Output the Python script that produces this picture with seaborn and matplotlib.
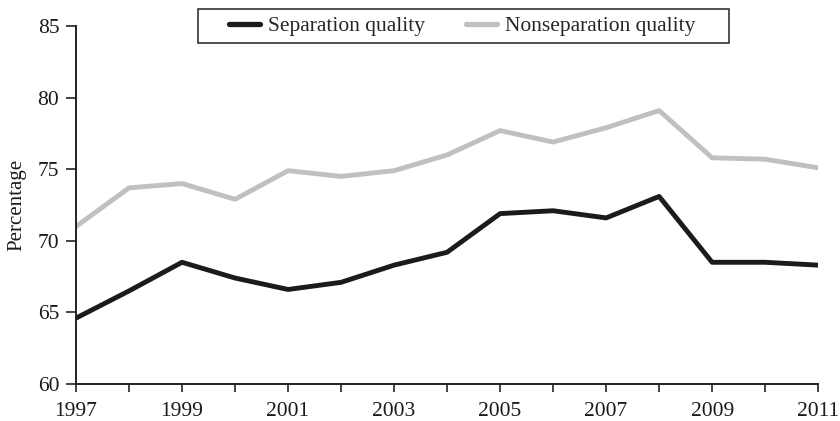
import seaborn as sb
from matplotlib import pyplot as plt
from matplotlib.patches import Rectangle
import pandas as pd

years = list(range(1997, 2012))
separation = [64.6, 66.5, 68.5, 67.4, 66.6, 67.1, 68.3, 69.2, 71.9, 72.1, 71.6, 73.1, 68.5, 68.5, 68.3]
nonseparation = [71.0, 73.7, 74.0, 72.9, 74.9, 74.5, 74.9, 76.0, 77.7, 76.9, 77.9, 79.1, 75.8, 75.7, 75.1]
series_names = ['Separation quality', 'Nonseparation quality']

# long form table for seaborn
data = pd.DataFrame({
    'year': years * 2,
    'value': separation + nonseparation,
    'series': [series_names[0]] * len(years) + [series_names[1]] * len(years),
})

sb.set_style('ticks')
plt.rcParams['font.family'] = ['Liberation Serif', 'DejaVu Serif']

fig = plt.figure(figsize=(8.4, 4.21), dpi=100)
ax = fig.add_axes([0.0905, 0.088, 0.8835, 0.85])

sb.lineplot(x='year', y='value', hue='series', data=data, ax=ax,
            palette=['#1c1a1a', '#c0c0c2'], linewidth=3.5, legend=True)

ax.set_xlim(1997, 2011)
ax.set_ylim(60, 85)
ax.set_xticks(years)
ax.set_xticklabels([str(y) if (y - 1997) % 2 == 0 else '' for y in years])
ax.set_yticks([60, 65, 70, 75, 80, 85])
ax.tick_params(axis='both', labelsize=15.5, direction='out', width=1.2, color='#222222',
               labelcolor='#1a1a1a')
ax.tick_params(axis='x', length=6, pad=7)
ax.tick_params(axis='y', length=7, pad=5)
ax.set_xlabel('')
ax.set_ylabel('Percentage', fontsize=15, color='#1a1a1a')
ax.yaxis.set_label_coords(-0.067, 0.5)
for s in ['top', 'right']:
    ax.spines[s].set_visible(False)
for s in ['left', 'bottom']:
    ax.spines[s].set_linewidth(1.4)
    ax.spines[s].set_color('#222222')

# legend text and handles, with the box drawn separately for the wide side padding
leg = ax.legend(loc='center', bbox_to_anchor=(462 / 840, 1 - 26 / 421),
                bbox_transform=fig.transFigure, ncol=2, fontsize=15.5, frameon=False,
                handlelength=1.45, columnspacing=1.9, handletextpad=0.35)
for line in leg.get_lines():
    line.set_linewidth(3.8)
fig.patches.append(Rectangle((198 / 840, 1 - 43 / 421), (729 - 198) / 840, 34 / 421,
                             transform=fig.transFigure, fill=False,
                             edgecolor='#222222', linewidth=1.1))

fig.savefig('out.png', dpi=100)
